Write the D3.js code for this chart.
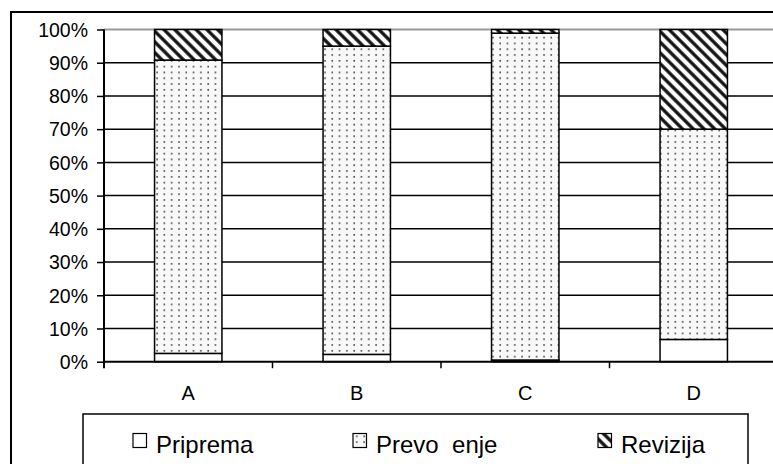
<!DOCTYPE html>
<head>
<meta charset="utf-8">
<style>
body, html {
  margin: 0;
  background: #fff;
  font-family: "Liberation Sans", Arial, sans-serif;
}
.grid line {
  stroke: #000;
  stroke-width: 1.5;
}
.bar {
  stroke: #000;
  stroke-width: 1.5;
}
</style>
<script src="https://d3js.org/d3.v7.min.js"></script>
</head>
<body>
<script>

// values (percent of each bar)
var categories = ["A", "B", "C", "D"];
var seriesNames = ["Priprema", "Prevo  enje", "Revizija"];
var priprema   = [2.5, 2.2, 0.5, 6.7];
var prevodenje = [88.3, 92.8, 98.4, 63.3];
var revizija   = [9.2, 5.0, 1.1, 30.0];
var yTicks = [0, 10, 20, 30, 40, 50, 60, 70, 80, 90, 100];

var width = 773,
    height = 464,
    plot = {left: 104, right: 778, top: 29.5, bottom: 361.7};

var svg = d3.select("body").append("svg")
    .attr("width", width)
    .attr("height", height);

//--------------------------------------
// patterns
var defs = svg.append("defs");

var dots = defs.append("pattern")
    .attr("id", "dots")
    .attr("patternUnits", "userSpaceOnUse")
    .attr("width", 7.3)
    .attr("height", 5.8);
dots.append("rect").attr("width", 7.3).attr("height", 5.8).attr("fill", "#f8f8f8");
dots.append("rect").attr("x", 3).attr("y", 2).attr("width", 1.6).attr("height", 1.6).attr("fill", "#444");

var hatch = defs.append("pattern")
    .attr("id", "hatch")
    .attr("patternUnits", "userSpaceOnUse")
    .attr("width", 7.6)
    .attr("height", 7.6)
    .attr("patternTransform", "rotate(-45)");
hatch.append("rect").attr("width", 7.6).attr("height", 7.6).attr("fill", "#fff");
hatch.append("line")
    .attr("x1", 3.8).attr("y1", -1).attr("x2", 3.8).attr("y2", 9)
    .attr("stroke", "#111").attr("stroke-width", 3.3);

var fills = ["#fff", "url(#dots)", "url(#hatch)"];

//--------------------------------------
// outer chart border
svg.append("rect")
    .attr("x", 11).attr("y", 12)
    .attr("width", 820).attr("height", 520)
    .attr("fill", "none")
    .attr("stroke", "#000")
    .attr("stroke-width", 2);

//--------------------------------------
// scales
var x = d3.scaleBand()
    .domain(categories)
    .range([plot.left, plot.right])
    .padding(0);

var y = d3.scaleLinear()
    .domain([0, 100])
    .range([plot.bottom, plot.top]);

var barW = x.bandwidth() * 0.4;

// gridlines
svg.append("g").attr("class", "grid")
  .selectAll("line")
  .data(yTicks.filter(function(d) { return d > 0 && d < 100; }))
  .enter().append("line")
    .attr("x1", plot.left).attr("x2", plot.right)
    .attr("y1", function(d) { return y(d); })
    .attr("y2", function(d) { return y(d); });

// gray top border of plot area
svg.append("line")
    .attr("x1", plot.left).attr("x2", plot.right)
    .attr("y1", y(100)).attr("y2", y(100))
    .attr("stroke", "#999")
    .attr("stroke-width", 2);

//--------------------------------------
// stacked bars
var table = categories.map(function(c, i) {
  var row = {cat: c};
  row[seriesNames[0]] = priprema[i];
  row[seriesNames[1]] = prevodenje[i];
  row[seriesNames[2]] = revizija[i];
  return row;
});
var stacked = d3.stack().keys(seriesNames)(table);

svg.append("g").selectAll("g")
  .data(stacked)
  .enter().append("g")
    .attr("fill", function(d, i) { return fills[i]; })
  .selectAll("rect")
  .data(function(d) { return d; })
  .enter().append("rect")
    .attr("class", "bar")
    .attr("x", function(d) { return x(d.data.cat) + (x.bandwidth() - barW) / 2; })
    .attr("width", barW)
    .attr("y", function(d) { return y(d[1]); })
    .attr("height", function(d) { return y(d[0]) - y(d[1]); });

//--------------------------------------
// axes
var yAxis = svg.append("g")
    .attr("transform", "translate(" + plot.left + ",0)")
    .call(d3.axisLeft(y).tickValues(yTicks).tickSize(7).tickPadding(9)
      .tickFormat(function(d) { return d + "%"; }));
yAxis.select(".domain").remove();
yAxis.selectAll(".tick line").attr("stroke", "#000").attr("stroke-width", 1.5);
yAxis.selectAll("text")
    .attr("fill", "#000")
    .attr("font-family", "Liberation Sans, Arial, sans-serif")
    .attr("font-size", 19.5)
    .attr("dy", "0.35em");

svg.append("line")
    .attr("x1", plot.left).attr("x2", plot.left)
    .attr("y1", plot.top).attr("y2", plot.bottom + 6.5)
    .attr("stroke", "#000").attr("stroke-width", 2);

svg.append("line")
    .attr("x1", plot.left).attr("x2", plot.right)
    .attr("y1", plot.bottom).attr("y2", plot.bottom)
    .attr("stroke", "#000").attr("stroke-width", 2);

// category boundary ticks
svg.append("g").selectAll("line")
  .data(categories.slice(1))
  .enter().append("line")
    .attr("x1", function(d) { return x(d); })
    .attr("x2", function(d) { return x(d); })
    .attr("y1", plot.bottom).attr("y2", plot.bottom + 6.5)
    .attr("stroke", "#000").attr("stroke-width", 1.5);

svg.append("g").selectAll("text")
  .data(categories)
  .enter().append("text")
    .attr("x", function(d) { return x(d) + x.bandwidth() / 2; })
    .attr("y", 400)
    .attr("text-anchor", "middle")
    .attr("font-size", 20)
    .text(function(d) { return d; });

//--------------------------------------
// legend
svg.append("rect")
    .attr("x", 83).attr("y", 414)
    .attr("width", 665).attr("height", 100)
    .attr("fill", "none")
    .attr("stroke", "#000")
    .attr("stroke-width", 1.5);

var legendX = [133, 353, 598];
var legend = svg.append("g").selectAll("g")
  .data(seriesNames)
  .enter().append("g")
    .attr("transform", function(d, i) { return "translate(" + legendX[i] + ",433.5)"; });

legend.append("rect")
    .attr("width", 13.5).attr("height", 14)
    .attr("fill", function(d, i) { return fills[i]; })
    .attr("stroke", "#000")
    .attr("stroke-width", 1.2);

legend.append("text")
    .attr("x", 23)
    .attr("y", 19.3)
    .attr("font-size", 24)
    .attr("xml:space", "preserve")
    .style("white-space", "pre")
    .text(function(d) { return d; });

</script>
</body>
